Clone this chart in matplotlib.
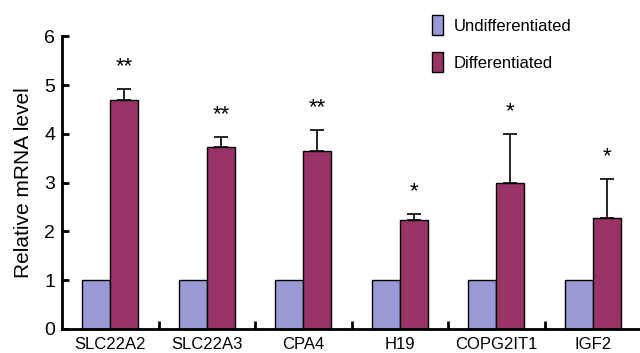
import matplotlib
matplotlib.use("Agg")
import matplotlib.pyplot as plt
from matplotlib.patches import Patch
import numpy as np

plt.rcParams['font.family'] = ['Liberation Sans', 'DejaVu Sans']

# Data
genes = ["SLC22A2", "SLC22A3", "CPA4", "H19", "COPG2IT1", "IGF2"]
undiff = [1, 1, 1, 1, 1, 1]
diff = [4.69, 3.73, 3.65, 2.23, 3.0, 2.27]
diff_err = [0.23, 0.20, 0.43, 0.13, 1.0, 0.80]
stars = ["**", "**", "**", "*", "*", "*"]

c_undiff = "#9999d6"
c_diff = "#993366"

fig = plt.figure(figsize=(6.4, 3.53), dpi=100)
ax = fig.add_axes([0.097, 0.068, 0.905, 0.829])

x = np.arange(len(genes))
w = 0.29
ax.bar(x - w / 2, undiff, w, color=c_undiff, edgecolor="black", linewidth=1)
ax.bar(x + w / 2, diff, w, color=c_diff, edgecolor="black", linewidth=1)
ax.errorbar(x + w / 2, diff, yerr=[np.zeros(len(diff)), diff_err], fmt="none",
            ecolor="black", elinewidth=1.2, capsize=5, capthick=1.2)

#significance marks
for i in range(len(genes)):
    ax.text(x[i] + w / 2, diff[i] + diff_err[i] + 0.25, stars[i], ha="center",
            va="bottom", fontsize=16)

ax.set_xlim(-0.5, len(genes) - 0.5)
ax.set_ylim(0, 6)
ax.set_yticks(range(7))
ax.set_xticks(x)
ax.set_xticklabels(genes)
ax.set_xticks(np.arange(0.5, len(genes) - 0.5), minor=True)
ax.tick_params(axis="x", which="major", length=0, labelsize=12, pad=6)
ax.tick_params(axis="x", which="minor", direction="in", length=6, width=2)
ax.tick_params(axis="y", direction="in", length=5, width=2, labelsize=14, pad=5)
ax.set_ylabel("Relative mRNA level", fontsize=15, labelpad=8)

for s in ["top", "right"]:
    ax.spines[s].set_visible(False)
for s in ["left", "bottom"]:
    ax.spines[s].set_linewidth(2)

handles = [Patch(facecolor=c_undiff, edgecolor="black", label="Undifferentiated"),
           Patch(facecolor=c_diff, edgecolor="black", label="Differentiated")]
fig.legend(handles=handles, loc="upper left", bbox_to_anchor=(0.651, 1.0),
           frameon=False, fontsize=12, handlelength=0.7, handleheight=1.5,
           labelspacing=1.0, handletextpad=0.6)

fig.savefig("out.png", dpi=100)
